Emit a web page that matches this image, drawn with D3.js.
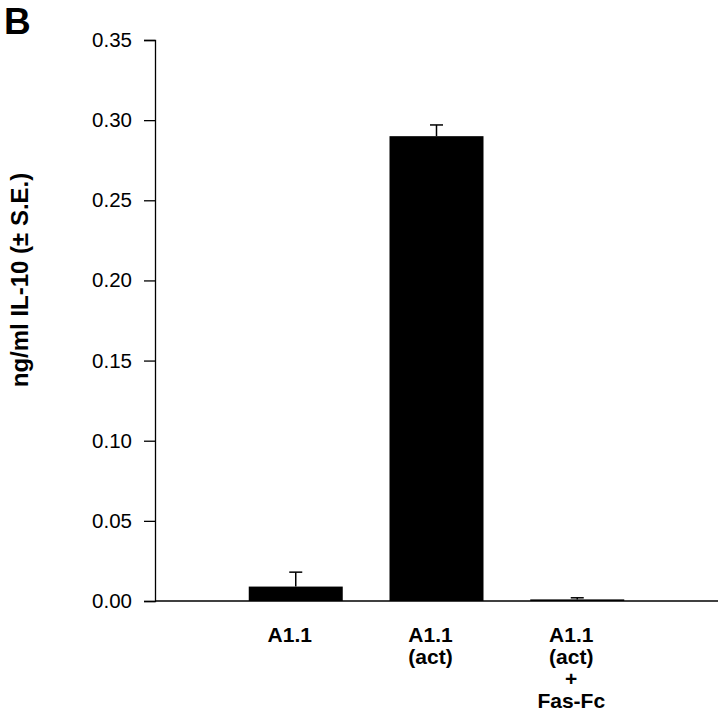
<!DOCTYPE html>
<html><head><meta charset="utf-8">
<script src="https://cdn.jsdelivr.net/npm/d3@7"></script>
<style>body{margin:0;background:#fff}svg{display:block}</style>
</head><body>
<script>
const categories = ["A1.1", "A1.1 (act)", "A1.1 (act) + Fas-Fc"];
const categoryLines = [["A1.1"], ["A1.1", "(act)"], ["A1.1", "(act)", "+", "Fas-Fc"]];
const values = [0.009, 0.290, 0.001];
const errors = [0.009, 0.007, 0.001];
const yTicks = [0.00, 0.05, 0.10, 0.15, 0.20, 0.25, 0.30, 0.35];

const W = 720, H = 717;
const FONT = "Arial, 'Liberation Sans', sans-serif";
const svg = d3.select("body").append("svg").attr("width", W).attr("height", H);

const x = d3.scalePoint().domain(categories).range([155, 718]).padding(1);
const y = d3.scaleLinear().domain([0, 0.35]).range([601, 40]);
const barW = 94;

// bars
svg.selectAll("rect.bar").data(values).enter().append("rect")
  .attr("x", (d, i) => x(categories[i]) - barW / 2)
  .attr("y", d => y(d))
  .attr("width", barW)
  .attr("height", d => y(0) - y(d))
  .attr("fill", "#000");

// error bars (upper only)
const capW = 13;
values.forEach((v, i) => {
  const cx = x(categories[i]);
  svg.append("line").attr("x1", cx).attr("x2", cx)
    .attr("y1", y(v)).attr("y2", y(v + errors[i]))
    .attr("stroke", "#000").attr("stroke-width", 1.5);
  svg.append("line").attr("x1", cx - capW / 2).attr("x2", cx + capW / 2)
    .attr("y1", y(v + errors[i])).attr("y2", y(v + errors[i]))
    .attr("stroke", "#000").attr("stroke-width", 1.5);
});

// y axis
const yAxis = d3.axisLeft(y).tickValues(yTicks).tickFormat(d3.format(".2f")).tickSize(11).tickPadding(12);
const gy = svg.append("g").attr("transform", "translate(155,0)").call(yAxis);
gy.select(".domain").attr("stroke-width", 1.3);
gy.selectAll(".tick line").attr("stroke-width", 1.3);
gy.selectAll("text").attr("font-family", FONT).attr("font-size", 20.5).attr("fill", "#000");

// x axis line
const gx = svg.append("g").attr("transform", "translate(0,601)")
  .call(d3.axisBottom(x).tickSize(0).tickFormat(""));
gx.select(".domain").attr("d", "M155,0H718").attr("stroke-width", 1.3);

// category labels
categoryLines.forEach((lines, i) => {
  const t = svg.append("text").attr("text-anchor", "middle")
    .attr("font-family", FONT)
    .attr("font-weight", "bold").attr("font-size", 21).attr("fill", "#000");
  lines.forEach((ln, j) => {
    t.append("tspan").attr("x", x(categories[i]) - 6).attr("y", 642 + j * 22).text(ln);
  });
});

// y label
svg.append("text")
  .attr("transform", "translate(28,280) rotate(-90)")
  .attr("text-anchor", "middle")
  .attr("font-family", FONT)
  .attr("font-weight", "bold").attr("font-size", 24).attr("fill", "#000")
  .text("ng/ml IL-10 (± S.E.)");

// panel letter
svg.append("text").attr("x", 4).attr("y", 34)
  .attr("font-family", FONT)
  .attr("font-weight", "bold").attr("font-size", 37).attr("fill", "#000")
  .text("B");
</script>
</body></html>
